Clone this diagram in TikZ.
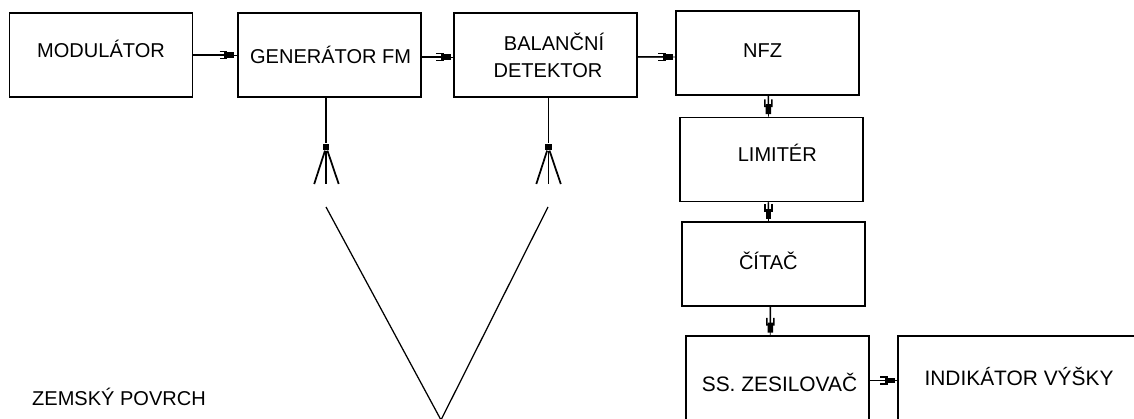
\documentclass[tikz,border=0pt]{standalone}
\usepackage{fontspec}
\setmainfont{Liberation Sans}
\usetikzlibrary{arrows.meta}
\tikzset{
  blockbox/.style={draw, line width=0.035cm, minimum width=3.66cm, minimum height=1.68cm, inner sep=0pt},
  blocktext/.style={font=\fontsize{11.4}{15.9}\selectfont, align=center, inner sep=0pt, text height=0.28cm, text depth=0pt},
  widetext/.style={blocktext, font=\fontsize{11.9}{15.9}\selectfont},
  flow/.style={line width=0.03cm, shorten >=0.05cm, preaction={draw, -, shorten >=0pt},
    -{Bracket[length=0.14cm,width=0.17cm,line width=0.03cm,sep=-0.06cm]Rectangle[length=0.2cm,width=0.11cm]}},
  stem/.style={line width=0.03cm},
  prong/.style={line width=0.035cm},
  dot/.style={fill=black, inner sep=0pt, minimum size=0.13cm},
  beam/.style={line width=0.025cm},
}
\newcommand{\antenna}[2]{%
  \node[dot] (#1dot) at (#2,147) {};
  \coordinate (#1left) at (#2-12,184);
  \coordinate (#1mid) at (#2,184);
  \coordinate (#1right) at (#2+12.5,184);
  \draw[stem] (#1dot |- #1.south) -- (#1dot);
  \draw[prong] (#1dot) -- (#1left); \draw[stem] (#1dot) -- (#1mid); \draw[prong] (#1dot) -- (#1right);}
\begin{document}
\begin{tikzpicture}[x=0.02cm, y=-0.02cm]
  \useasboundingbox (0,0) rectangle (1134,419);
  \clip (0,0) rectangle (1134,419);
  \node[blockbox] (mod) at (101,55) {};
  \node[blockbox] (gen) at (329.3,55) {};
  \node[blockbox] (bal) at (545.4,55) {};
  \node[blockbox] (nfz) at (767.4,53) {};
  \node[blockbox] (lim) at (771.6,159.5) {};
  \node[blockbox] (cit) at (773.7,264) {};
  \node[blockbox] (ss) at (777.6,378) {};
  \node[blockbox, minimum width=6cm] (ind) at (1048.3,378) {};
  % texts sit off centre in their boxes
  \node[blocktext] (modtext) at (101,51) {MODULÁTOR};
  \node[blocktext] (gentext) at (330.6,57) {GENERÁTOR FM};
  \node[blocktext] (baltext) at (548,71) {\hspace*{0.24cm}BALANČNÍ\\DETEKTOR};
  \node[blocktext] (nfztext) at (762.6,51) {NFZ};
  \node[blocktext] (limtext) at (777.3,155) {LIMITÉR};
  \node[blocktext] (cittext) at (768.3,263) {ČÍTAČ};
  \node[widetext] (sstext) at (779.5,384) {SS. ZESILOVAČ};
  \node[widetext] (indtext) at (1019,378) {INDIKÁTOR VÝŠKY};
  \node[blocktext] (zemtext) at (119,398) {ZEMSKÝ POVRCH};
  \draw[flow] (mod) -- (gen);
  \draw[flow] ([yshift=-0.04cm]gen.east) -- ([yshift=-0.04cm]bal.west);
  \draw[flow] ([yshift=-0.04cm]bal.east) -- ([yshift=-0.08cm]nfz.west);
  \draw[flow] ([xshift=0.02cm]nfz.south) -- ([xshift=-0.064cm]lim.north);
  \draw[flow] ([xshift=-0.064cm]lim.south) -- ([xshift=-0.106cm]cit.north);
  \draw[flow] ([xshift=-0.068cm]cit.south) -- ([xshift=-0.146cm]ss.north);
  \draw[flow] ([yshift=-0.054cm]ss.east) -- ([yshift=-0.054cm]ind.west);
  \antenna{gen}{326.2}
  \antenna{bal}{548.3}
  \coordinate (beamleft) at (326,207);
  \coordinate (beamright) at (548,207);
  \coordinate (beambottom) at (441,420);
  \draw[beam] (beamleft) -- (beambottom) -- (beamright);
\end{tikzpicture}
\end{document}
